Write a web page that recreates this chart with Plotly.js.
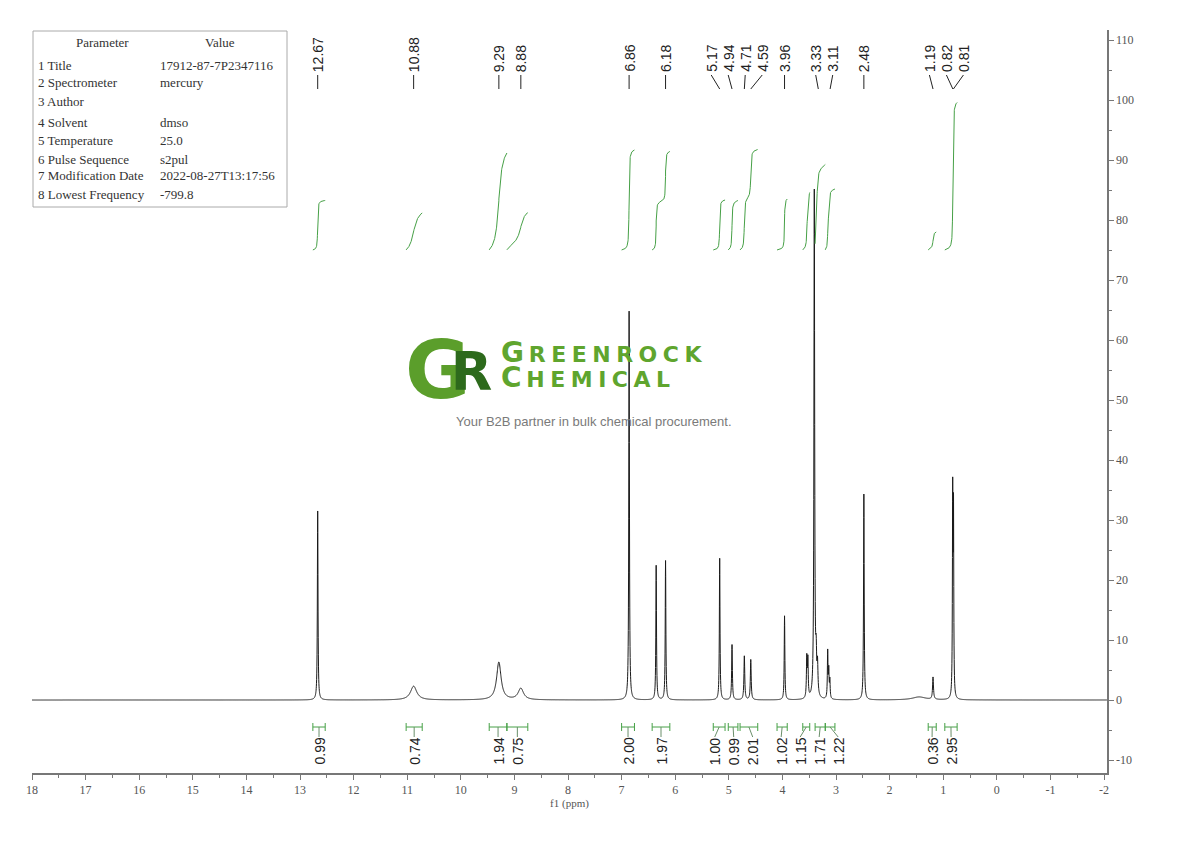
<!DOCTYPE html>
<html><head><meta charset="utf-8">
<script src="https://cdn.plot.ly/plotly-3.0.1.min.js"></script>
<style>html,body{margin:0;padding:0;background:#fff}#chart{width:1190px;height:841px}</style>
</head><body><div id="chart"></div>
<script>
// ---------------- data ----------------
// spectrum peaks: position (ppm), height (intensity units), half width at half max (ppm)
const peakPpm    = [12.67, 10.88, 9.29, 8.88, 6.86, 6.355, 6.18, 5.17, 4.94, 4.71, 4.59, 3.96, 3.545, 3.525, 3.405, 3.37, 3.345, 3.155, 3.135, 3.115, 2.48, 1.45, 1.19, 0.823, 0.808];
const peakHeight = [31.5, 2.3, 6.3, 1.9, 64.8, 22.4, 23.2, 23.6, 9.2, 7.3, 6.7, 14.0, 6.6, 6.2, 84.5, 6.0, 5.0, 7.8, 4.5, 3.0, 34.3, 0.5, 3.7, 33.0, 30.0];
const peakHwhm   = [0.007, 0.07, 0.05, 0.06, 0.007, 0.007, 0.007, 0.007, 0.008, 0.009, 0.009, 0.007, 0.008, 0.008, 0.008, 0.01, 0.01, 0.007, 0.007, 0.007, 0.007, 0.15, 0.01, 0.006, 0.006];

// peak-pick labels
const peakLabels = [12.67, 10.88, 9.29, 8.88, 6.86, 6.18, 5.17, 4.94, 4.71, 4.59, 3.96, 3.33, 3.11, 2.48, 1.19, 0.82, 0.81];

// integrals
const intFrom  = [12.76, 11.02, 9.47, 9.14, 7.00, 6.43, 5.29, 5.01, 4.79, 4.10, 3.62, 3.39, 3.20, 1.28, 0.97];
const intTo    = [12.53, 10.72, 9.14, 8.75, 6.76, 6.10, 5.07, 4.83, 4.46, 3.91, 3.49, 3.20, 3.02, 1.13, 0.74];
const intValue = [0.99, 0.74, 1.94, 0.75, 2.00, 1.97, 1.00, 0.99, 2.01, 1.02, 1.15, 1.71, 1.22, 0.36, 2.95];

// axes
const xTickVals = [18,17,16,15,14,13,12,11,10,9,8,7,6,5,4,3,2,1,0,-1,-2];
const xTickText = ['18','17','16','15','14','13','12','11','10','9','8','7','6','5','4','3','2','1','0','-1','-2'];
const yTickVals = [-10,0,10,20,30,40,50,60,70,80,90,100,110];
const yTickText = ['-10','0','10','20','30','40','50','60','70','80','90','100','110'];

// parameter table
const paramNames  = ['1 Title','2 Spectrometer','3 Author','4 Solvent','5 Temperature','6 Pulse Sequence','7 Modification Date','8 Lowest Frequency'];
const paramValues = ['17912-87-7P2347116','mercury','','dmso','25.0','s2pul','2022-08-27T13:17:56','-799.8'];

// ---------------- geometry ----------------
const W = 1190, H = 841;
const M = {l: 32, r: 83, t: 30, b: 68};
const pxPerPpm = 53.6, pxPerUnit = 6;
const plotW = W - M.l - M.r, plotH = H - M.t - M.b;
const xRange = [18, 18 - plotW / pxPerPpm];
const yTopPx = 700; // pixel of y=0
const yRange = [-(M.t + plotH - yTopPx) / pxPerUnit, (yTopPx - M.t) / pxPerUnit];
const px2x = px => (px - M.l) / plotW;           // paper
const py2y = py => 1 - (py - M.t) / plotH;      // paper
const pyU = py => (yTopPx - py) / pxPerUnit;    // data units

// ---------------- spectrum ----------------
function spec(x) {
  let s = 0;
  for (let i = 0; i < peakPpm.length; i++) {
    const d = (x - peakPpm[i]) / peakHwhm[i];
    s += peakHeight[i] / (1 + d * d);
  }
  return s;
}
let xs = [];
for (let x = xRange[0]; x >= xRange[1]; x -= 0.0025) xs.push(+x.toFixed(5));
peakPpm.forEach(p => xs.push(p));
xs.sort((a, b) => b - a);
const ys = xs.map(spec);

const traces = [{
  x: xs, y: ys, type: 'scatter', mode: 'lines', hoverinfo: 'skip',
  line: {color: '#1a1a1a', width: 1, simplify: false}, showlegend: false
}];

// integral curves
const green = '#46a046';
const intBase = 75, intScale = 50 / pxPerUnit;
for (let k = 0; k < intFrom.length; k++) {
  const ix = [], iy = [];
  let cum = 0;
  const seg = xs.filter(x => x <= intFrom[k] && x >= intTo[k]);
  const vals = seg.map(spec);
  const total = vals.reduce((a, b) => a + b, 0);
  seg.forEach((x, j) => { cum += vals[j]; ix.push(x); iy.push(intBase + intValue[k] * intScale * cum / total); });
  traces.push({x: ix, y: iy, type: 'scatter', mode: 'lines', hoverinfo: 'skip', showlegend: false,
    line: {color: green, width: 1}});
}

// ---------------- label spreading ----------------
function spread(targets, gap) { // targets ascending
  let groups = targets.map((t, i) => ({idx: [i], c: t}));
  let changed = true;
  while (changed) {
    changed = false;
    for (let i = 0; i < groups.length - 1; i++) {
      const a = groups[i], b = groups[i + 1];
      const aEnd = a.c + (a.idx.length - 1) * gap / 2;
      const bStart = b.c - (b.idx.length - 1) * gap / 2;
      if (bStart - aEnd < gap) {
        const idx = a.idx.concat(b.idx);
        const c = idx.reduce((s, k) => s + targets[k], 0) / idx.length;
        groups.splice(i, 2, {idx, c});
        changed = true; break;
      }
    }
  }
  const pos = [];
  groups.forEach(g => g.idx.forEach((k, j) => pos[k] = g.c + (j - (g.idx.length - 1) / 2) * gap));
  return pos;
}

const annotations = [], shapes = [];
const labelFont = {family: 'Liberation Sans, Arial, sans-serif', size: 14, color: '#222'};

// top peak labels
const topPos = spread(peakLabels.map(p => -p), 17 / pxPerPpm).map(v => -v);
peakLabels.forEach((p, i) => {
  annotations.push({x: topPos[i], y: pyU(73), xref: 'x', yref: 'y', text: p.toFixed(2), textangle: -90,
    showarrow: false, xanchor: 'center', yanchor: 'bottom', font: labelFont, borderpad: 0});
  shapes.push({type: 'line', xref: 'x', yref: 'y', x0: topPos[i], y0: pyU(75), x1: p, y1: pyU(89),
    line: {color: '#222', width: 1}});
});

// bottom integral brackets + labels
const intCenters = intFrom.map((f, i) => (f + intTo[i]) / 2);
const botPos = spread(intCenters.map(p => -p), 19 / pxPerPpm).map(v => -v);
intValue.forEach((v, i) => {
  const yb = pyU(727);
  shapes.push({type: 'line', xref: 'x', yref: 'y', x0: intFrom[i], x1: intTo[i], y0: yb, y1: yb, line: {color: green, width: 1}});
  shapes.push({type: 'line', xref: 'x', yref: 'y', x0: intFrom[i], x1: intFrom[i], y0: pyU(723), y1: pyU(731), line: {color: green, width: 1}});
  shapes.push({type: 'line', xref: 'x', yref: 'y', x0: intTo[i], x1: intTo[i], y0: pyU(723), y1: pyU(731), line: {color: green, width: 1}});
  shapes.push({type: 'line', xref: 'x', yref: 'y', x0: intCenters[i], x1: botPos[i], y0: yb, y1: pyU(737), line: {color: '#6a8f6a', width: 1}});
  annotations.push({x: botPos[i], y: pyU(737), xref: 'x', yref: 'y', text: v.toFixed(2), textangle: -90,
    showarrow: false, xanchor: 'center', yanchor: 'top', font: labelFont, borderpad: 0});
});

// parameter table
const tFont = {family: 'Liberation Serif, serif', size: 13, color: '#333'};
shapes.push({type: 'rect', xref: 'paper', yref: 'paper', x0: px2x(33), x1: px2x(287), y0: py2y(31), y1: py2y(207),
  line: {color: '#aaa', width: 1}, fillcolor: 'rgba(255,255,255,0)'});
annotations.push({xref: 'paper', yref: 'paper', x: px2x(102), y: py2y(43), text: 'Parameter', showarrow: false, xanchor: 'center', yanchor: 'middle', font: tFont});
annotations.push({xref: 'paper', yref: 'paper', x: px2x(220), y: py2y(43), text: 'Value', showarrow: false, xanchor: 'center', yanchor: 'middle', font: tFont});
const rowY = [65, 83, 101, 123, 141, 159, 176, 194];
paramNames.forEach((n, i) => {
  annotations.push({xref: 'paper', yref: 'paper', x: px2x(36), y: py2y(rowY[i]), text: n, showarrow: false, xanchor: 'left', yanchor: 'middle', font: tFont});
  if (paramValues[i]) annotations.push({xref: 'paper', yref: 'paper', x: px2x(158), y: py2y(rowY[i]), text: paramValues[i], showarrow: false, xanchor: 'left', yanchor: 'middle', font: tFont});
});

// watermark logo (G and R share one text, R pulled over the G as in the logo)
const sp = '\u2005';
annotations.push({xref: 'paper', yref: 'paper', x: px2x(404), y: py2y(370), xanchor: 'left', yanchor: 'middle', showarrow: false, borderpad: 0,
  text: '<b><span style="letter-spacing:-20px">G</span><span style="font-size:54px;color:#2d6a1c;baseline-shift:8px">R</span></b>',
  font: {family: 'DejaVu Sans', size: 80, color: '#5b9e2b'}});
const big = s => '<span style="font-size:28px">' + s + '</span>';
const sm = s => '<span style="font-size:22px">' + s.split('').join(sp) + '</span>';
annotations.push({xref: 'paper', yref: 'paper', x: px2x(500), y: py2y(365), showarrow: false, xanchor: 'left', yanchor: 'middle', align: 'left', borderpad: 0,
  text: '<b>' + big('G') + sp + sm('REENROCK') + '<br>' + big('C') + sp + sm('HEMICAL') + '</b>',
  font: {family: 'DejaVu Sans', size: 19, color: '#5fa52e'}});
annotations.push({xref: 'paper', yref: 'paper', x: px2x(594), y: py2y(421), text: 'Your B2B partner in bulk chemical procurement.',
  showarrow: false, xanchor: 'center', yanchor: 'middle', font: {family: 'Liberation Sans, Arial', size: 13, color: '#7a7a7a'}});

const axisCommon = {showgrid: false, zeroline: false, showline: true, linecolor: '#777', linewidth: 1.5,
  ticks: 'outside', tickcolor: '#777', tickfont: {family: 'Liberation Serif, serif', size: 12, color: '#555'}};

const layout = {
  width: W, height: H, margin: M, paper_bgcolor: '#fff', plot_bgcolor: '#fff', showlegend: false,
  xaxis: Object.assign({}, axisCommon, {range: xRange, tickmode: 'array', tickvals: xTickVals, ticktext: xTickText, ticklen: 5,
    minor: {tickmode: 'linear', tick0: 0, dtick: 0.5, ticks: 'outside', ticklen: 3, tickcolor: '#777'},
    title: {text: 'f1 (ppm)', standoff: 2, font: {family: 'Liberation Serif, serif', size: 11, color: '#555'}}}),
  yaxis: Object.assign({}, axisCommon, {range: yRange, side: 'right', tickmode: 'array', tickvals: yTickVals, ticktext: yTickText, ticklen: 5,
    minor: {tickmode: 'linear', tick0: 0, dtick: 5, ticks: 'outside', ticklen: 3, tickcolor: '#777'}}),
  shapes, annotations
};

Plotly.newPlot('chart', traces, layout, {staticPlot: true, displayModeBar: false});
</script></body></html>
